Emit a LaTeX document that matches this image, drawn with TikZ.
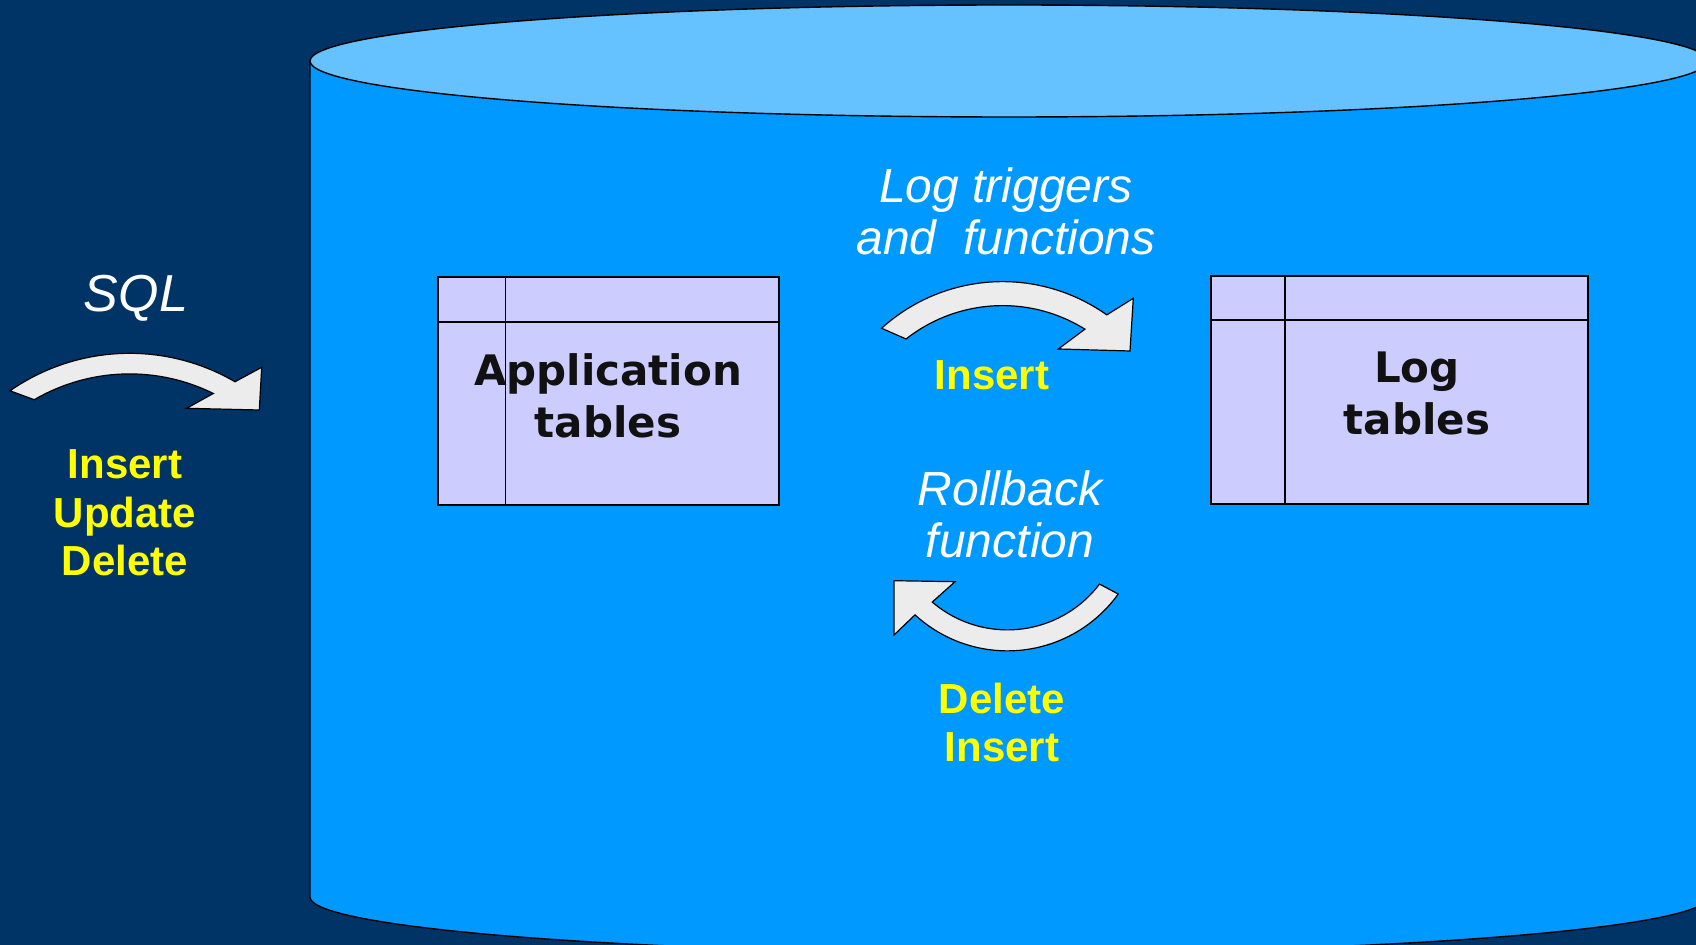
\documentclass[tikz,border=0pt]{standalone}
\usepackage{fontspec}
\setmainfont{Liberation Sans}
\newfontfamily\boxfont{DejaVu Sans}
\definecolor{bgnavy}{RGB}{0,51,102}
\definecolor{cylbody}{RGB}{0,153,255}
\definecolor{cyltop}{RGB}{102,194,255}
\definecolor{boxfill}{RGB}{204,204,255}
\definecolor{arrowfill}{RGB}{236,236,236}
\definecolor{optext}{RGB}{255,255,0}
\definecolor{boxtext}{RGB}{17,17,17}
\tikzset{
  outline/.style={draw=black,line width=0.7pt},
  tablebox/.style={draw=black,line width=0.7pt,fill=boxfill,inner sep=0pt,outer sep=0pt},
  gridline/.style={draw=black,line width=0.7pt},
  curvedarrow/.style={fill=arrowfill,draw=black,line width=0.6pt,line join=miter},
  italictext/.style={text=white,align=center,font=\fontsize{24}{26}\selectfont\itshape},
  optextstyle/.style={text=optext,align=center,font=\fontsize{21}{24.3}\selectfont\bfseries},
  boxlabel/.style={text=boxtext,align=center,font=\boxfont\fontsize{21}{26}\selectfont\bfseries}
}
\begin{document}
\begin{tikzpicture}[x=0.5pt,y=-0.5pt]
\useasboundingbox (0,0) rectangle (1696,945);
\clip (0,0) rectangle (1696,945);
\fill[bgnavy] (0,0) rectangle (1696,945);
% cylinder
\fill[cylbody] (310,61) -- (310,897) arc[start angle=180,end angle=360,x radius=349.5pt,y radius=28pt] -- (1708,61) -- cycle;
\draw[outline] (310,61) -- (310,897) arc[start angle=180,end angle=360,x radius=349.5pt,y radius=28pt];
\filldraw[outline,fill=cyltop] (1009,61) ellipse [x radius=349.5pt,y radius=28pt];
% application table
\node[tablebox,minimum width=170.5pt,minimum height=114pt] (app) at (608.5,391) {};
\draw[gridline] (505.7,277) -- (505.7,505);
\draw[gridline] (438,322) -- (779,322);
\node[boxlabel] (apptext) at (608,396) {Application\\tables};
% log table
\node[tablebox,minimum width=188.5pt,minimum height=114pt] (log) at (1399.5,390) {};
\draw[gridline] (1285,276) -- (1285,504);
\draw[gridline] (1211,320) -- (1588,320);
\node[boxlabel] (logtext) at (1417,393.5) {Log\\tables};
% SQL arrow
\filldraw[curvedarrow] plot[domain=-124.8:-59.8,samples=40] ({129.6+209.6*cos(\x)},{562.9+209.6*sin(\x)})
  -- (261.7,367.3) -- (259.3,410) -- (186.7,408.3)
  -- plot[domain=-63.7:-120.3,samples=40] ({129.6+189*cos(\x)},{562.9+189*sin(\x)}) -- cycle;
% insert arrow
\filldraw[curvedarrow] plot[domain=-132.2:-54.6,samples=40] ({1002.5+180*cos(\x)},{461.6+180*sin(\x)})
  -- (1133.3,298.3) -- (1130,351) -- (1058.3,349)
  -- plot[domain=-58.1:-128.2,samples=40] ({1002.5+156*cos(\x)},{461.6+156*sin(\x)}) -- cycle;
% rollback arrow
\filldraw[curvedarrow] plot[domain=35.7:132.6,samples=40] ({1007.4+136.5*cos(\x)},{514.4+136.5*sin(\x)})
  -- (894,635) -- (894,580.7) -- (955,581.7)
  -- plot[domain=130.6:37.1,samples=40] ({1007.4+115.5*cos(\x)},{514.4+115.5*sin(\x)}) -- cycle;
% texts
\node[italictext,font=\fontsize{26}{28}\selectfont\itshape] (sql) at (136,298.5) {SQL};
\node[optextstyle] (sqlops) at (125,513) {Insert\\Update\\Delete};
\node[italictext] (logtrig) at (1006,211) {Log triggers\\and\ \ functions};
\node[optextstyle] (ins) at (992,375) {Insert};
\node[italictext] (rollback) at (1010,514) {Rollback\\function};
\node[optextstyle] (delins) at (1002,722.5) {Delete\\Insert};
\end{tikzpicture}
\end{document}
